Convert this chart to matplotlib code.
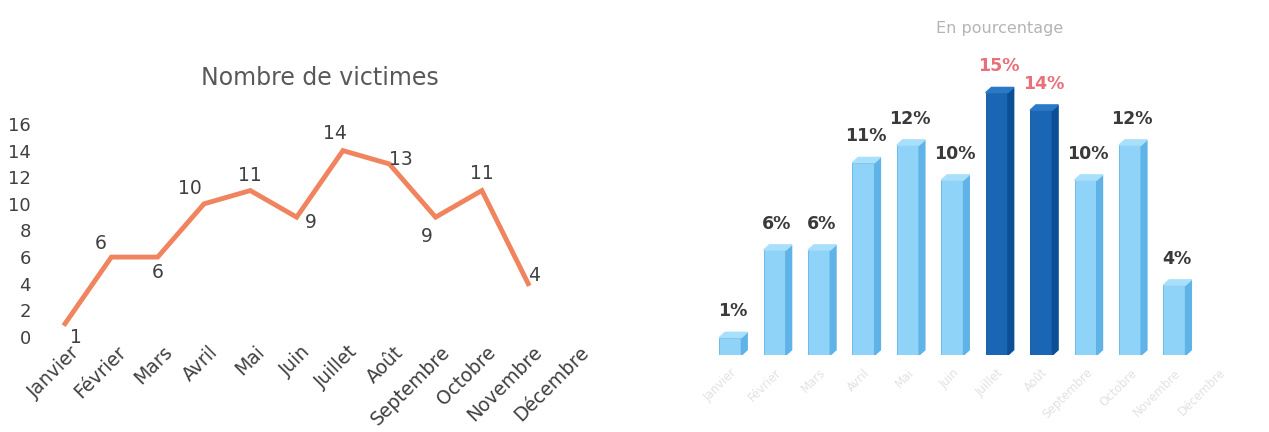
import matplotlib.pyplot as plt
from matplotlib.patches import Polygon
import numpy as np

# data
mois = ['Janvier', 'Février', 'Mars', 'Avril', 'Mai', 'Juin', 'Juillet',
        'Août', 'Septembre', 'Octobre', 'Novembre', 'Décembre']
victimes = [1, 6, 6, 10, 11, 9, 14, 13, 9, 11, 4]
pourcentages = [1, 6, 6, 11, 12, 10, 15, 14, 10, 12, 4]
mois_forts = ['Juillet', 'Août']

# label offsets (points) for the line chart
offsets = [(8, -10), (-8, 10), (0, -11), (-10, 11), (0, 11), (10, -4),
           (-6, 12), (8, 3), (-6, -14), (0, 12), (4, 6)]

fig = plt.figure(figsize=(12.69, 4.32), dpi=100)

# ---- left: line chart ----
ax1 = fig.add_axes([0.033, 0.22, 0.438, 0.493])
x = np.arange(len(victimes))
ax1.plot(x, victimes, color='#f0845e', lw=3.5, clip_on=False,
         solid_joinstyle='miter')
for xi, v, off in zip(x, victimes, offsets):
    ax1.annotate(str(v), (xi, v), xytext=off, textcoords='offset points',
                 ha='center', va='center', fontsize=13.5, color='#404040')
ax1.set_xlim(-0.5, 11.5)
ax1.set_ylim(0, 16)
ax1.set_yticks(range(0, 17, 2))
ax1.set_xticks(np.arange(len(mois)) + 0.1)
ax1.set_xticklabels(mois, rotation=45, ha='right', rotation_mode='anchor',
                    fontsize=13.5, color='#404040')
ax1.tick_params(axis='y', labelsize=13, labelcolor='#404040', length=0, pad=8)
ax1.tick_params(axis='x', length=0, pad=4)
for s in ax1.spines.values():
    s.set_visible(False)
ax1.set_title('Nombre de victimes', fontsize=17, color='#595959', pad=28)

# ---- right: pseudo 3D bars ----
ax2 = fig.add_axes([0.558, 0.178, 0.42, 0.648])
w = 0.5
dx, dy = 0.13, 0.3
for i, (m, p) in enumerate(zip(mois, pourcentages)):
    fort = m in mois_forts
    face = '#1a66b5' if fort else '#8fd4f8'
    side = '#0d4f96' if fort else '#5fb3e6'
    top = '#2a78c8' if fort else '#a8e0fb'
    ax2.bar(i, p, width=w, color=face, edgecolor=side, lw=0.6, zorder=2)
    l, r = i - w / 2, i + w / 2
    ax2.add_patch(Polygon([(r, 0), (r + dx, dy), (r + dx, p + dy), (r, p)],
                          closed=True, color=side, zorder=2))
    ax2.add_patch(Polygon([(l, p), (l + dx, p + dy), (r + dx, p + dy), (r, p)],
                          closed=True, color=top, zorder=2))
    ax2.text(i + 0.05, p + dy + 0.7, f'{p}%', ha='center', va='bottom',
             fontsize=12.5, fontweight='bold',
             color='#e8707a' if fort else '#3a3a3a')
ax2.set_xlim(-0.5, 11.5)
ax2.set_ylim(0, 16)
ax2.set_yticks([])
ax2.set_xticks(range(len(mois)))
ax2.set_xticklabels(mois, rotation=45, ha='right', rotation_mode='anchor',
                    fontsize=8.5, color='#e2e2e2')
ax2.tick_params(axis='x', length=0, pad=8)
for s in ax2.spines.values():
    s.set_visible(False)
fig.text(0.788, 0.935, 'En pourcentage', ha='center', va='center',
         fontsize=11.5, color='#b4b4b4')

fig.savefig('out.png', dpi=100)
